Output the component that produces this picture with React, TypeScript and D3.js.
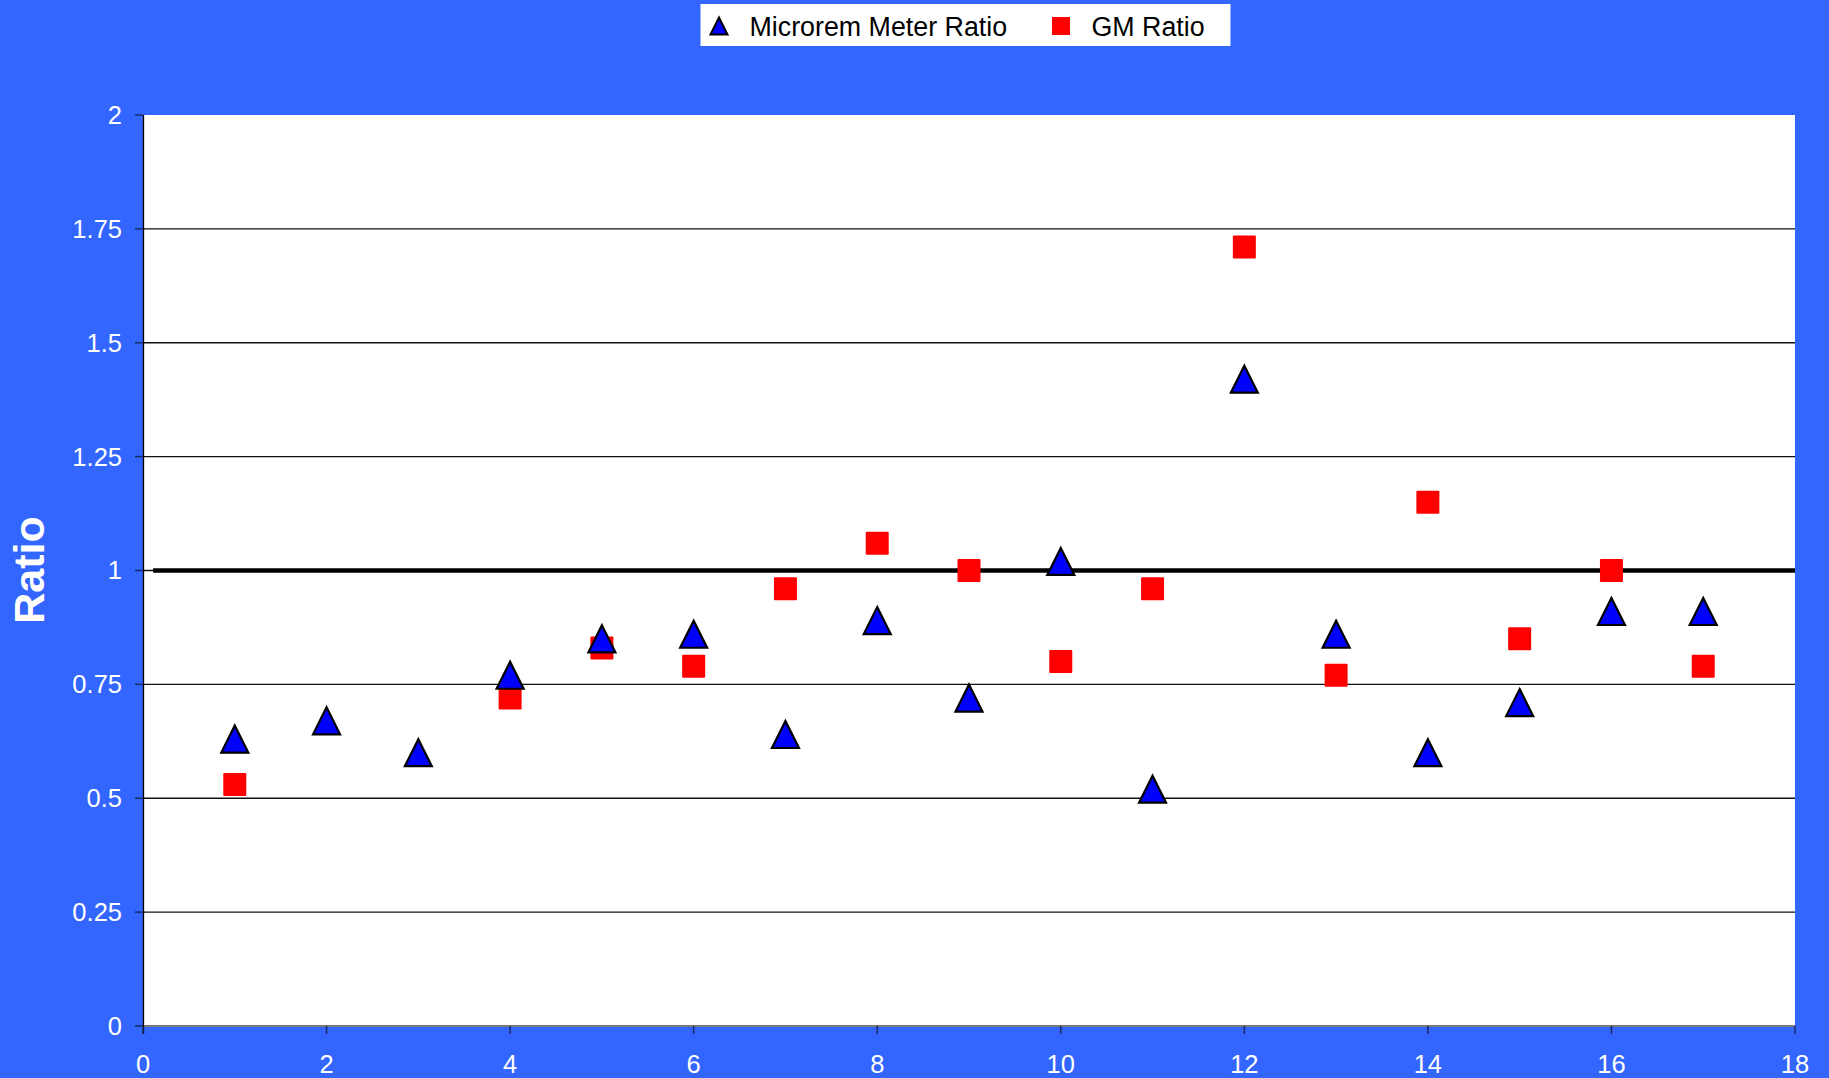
import React from "react";
import * as d3 from "d3";

const runs = [1, 2, 3, 4, 5, 6, 7, 8, 9, 10, 11, 12, 13, 14, 15, 16, 17];
const micrmedian = [0.63, 0.67, 0.6, 0.77, 0.85, 0.86, 0.64, 0.89, 0.72, 1.02, 0.52, 1.42, 0.86, 0.6, 0.71, 0.91, 0.91];
const gmRatio: (number | null)[] = [0.53, null, null, 0.72, 0.83, 0.79, 0.96, 1.06, 1.0, 0.8, 0.96, 1.71, 0.77, 1.15, 0.85, 1.0, 0.79];
const xTicks = [0, 2, 4, 6, 8, 10, 12, 14, 16, 18];
const yTicks = [0, 0.25, 0.5, 0.75, 1, 1.25, 1.5, 1.75, 2];
const refLine = { from: 0.11, to: 18, value: 1 };

const W = 1829;
const H = 1078;
const M = { left: 143, right: 1795, top: 115, bottom: 1026 };
const BG = "#3366ff";
const FONT = "Liberation Sans, Arial, sans-serif";

export default function App() {
  const x = d3.scaleLinear().domain([0, 18]).range([M.left, M.right]);
  const y = d3.scaleLinear().domain([0, 2]).range([M.bottom, M.top]);

  const tri = (cx: number, cy: number, s: number) => {
    const h = s;
    return `M${cx},${cy - h / 2} L${cx + s / 2},${cy + h / 2} L${cx - s / 2},${cy + h / 2} Z`;
  };

  const line = d3.line<number>().x((d) => x(d)).y(() => y(refLine.value));

  return (
    <svg
      width={W}
      height={H}
      style={{ position: "fixed", left: 0, top: 0, display: "block" }}
      fontFamily={FONT}
    >
      <rect x={0} y={0} width={W} height={H} fill={BG} />
      {/* plot area */}
      <rect x={M.left} y={M.top} width={M.right - M.left} height={M.bottom - M.top} fill="#fff" />

      {/* horizontal gridlines */}
      {yTicks
        .filter((t) => t > 0 && t < 2)
        .map((t) => (
          <line key={"g" + t} x1={M.left} x2={M.right} y1={y(t)} y2={y(t)} stroke="#111" strokeWidth={1.3} />
        ))}

      {/* axes */}
      <line x1={M.left} x2={M.right} y1={M.bottom} y2={M.bottom} stroke="#7a7a7a" strokeWidth={2} />
      <line x1={M.left + 0.5} x2={M.left + 0.5} y1={M.top} y2={M.bottom + 8} stroke="#000" strokeWidth={1.3} />

      {yTicks.map((t) => (
        <g key={"y" + t}>
          <line x1={M.left - 8} x2={M.left} y1={y(t)} y2={y(t)} stroke="#1a2a60" strokeWidth={1.5} />
          <text x={122} y={y(t)} dy="0.35em" textAnchor="end" fill="#fff" fontSize={25.5}>
            {String(t)}
          </text>
        </g>
      ))}

      {xTicks.map((t) => (
        <g key={"x" + t}>
          <line x1={x(t)} x2={x(t)} y1={M.bottom} y2={M.bottom + 8} stroke="#1a2a60" strokeWidth={1.5} />
          <text x={x(t)} y={1073} textAnchor="middle" fill="#fff" fontSize={25.5}>
            {String(t)}
          </text>
        </g>
      ))}

      {/* reference line at ratio 1 */}
      <path d={line([refLine.from, refLine.to]) || ""} stroke="#000" strokeWidth={4.5} fill="none" />

      {/* GM ratio squares */}
      {runs.map((r, i) =>
        gmRatio[i] == null ? null : (
          <rect
            key={"s" + r}
            x={x(r) - 11.5}
            y={y(gmRatio[i] as number) - 11.5}
            width={23}
            height={23}
            rx={1}
            fill="#ff0000"
          />
        )
      )}

      {/* microrem meter triangles */}
      {runs.map((r, i) => (
        <path
          key={"t" + r}
          d={tri(x(r), y(micrmedian[i]), 27)}
          fill="#0000ff"
          stroke="#000"
          strokeWidth={2.2}
          strokeLinejoin="miter"
        />
      ))}

      {/* y axis title */}
      <text
        transform={`translate(44,${570}) rotate(-90)`}
        textAnchor="middle"
        fill="#fff"
        fontSize={43}
        fontWeight="bold"
      >
        Ratio
      </text>

      {/* legend */}
      <rect x={700.5} y={4} width={530} height={42} fill="#fff" />
      <path d={tri(719, 26, 17)} fill="#0000ff" stroke="#000" strokeWidth={2} />
      <text x={749.5} y={35.5} fill="#000" fontSize={26.8}>
        Microrem Meter Ratio
      </text>
      <rect x={1052} y={17} width={18} height={18} fill="#ff0000" />
      <text x={1091.5} y={35.5} fill="#000" fontSize={26.8}>
        GM Ratio
      </text>
    </svg>
  );
}
